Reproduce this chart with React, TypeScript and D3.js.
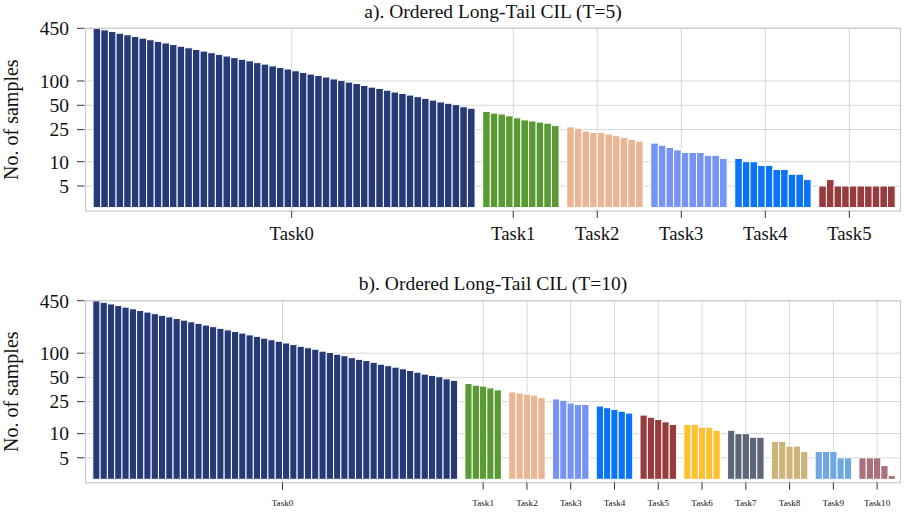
import React from 'react';
import * as d3 from 'd3';

const W = 907;
const H = 512;

// class counts, ordered from head to tail
const task0Counts = [450, 430, 410, 391, 374, 357, 340, 325, 310, 296, 283, 270, 258, 246, 235, 224, 214, 204, 195, 186,
  178, 169, 162, 154, 147, 141, 134, 128, 122, 117, 112, 106, 102, 97, 93, 88, 84, 81, 77, 73,
  70, 67, 64, 61, 58, 55, 53, 51, 48, 46];

// a) T=5
const t5Task1 = [42, 40, 39, 37, 35, 33, 32, 31, 30, 28];
const t5Task2 = [27, 26, 24, 23, 23, 22, 21, 20, 19, 18];
const t5Task3 = [17, 16, 15, 14, 13, 13, 13, 12, 12, 11];
const t5Task4 = [11, 10, 10, 9, 9, 8, 8, 7, 7, 6];
const t5Task5 = [5, 6, 5, 5, 5, 5, 5, 5, 5, 5];
const t5Names = ['Task0', 'Task1', 'Task2', 'Task3', 'Task4', 'Task5'];
const t5TickSlots = [26, 55, 66, 77, 88, 99];

// b) T=10
const t10Task1 = [42, 40, 39, 37, 35];
const t10Task2 = [33, 32, 31, 30, 28];
const t10Task3 = [27, 26, 24, 23, 23];
const t10Task4 = [22, 21, 20, 19, 18];
const t10Task5 = [17, 16, 15, 14, 13];
const t10Task6 = [13, 13, 12, 12, 11];
const t10Task7 = [11, 10, 10, 9, 9];
const t10Task8 = [8, 8, 7, 7, 6];
const t10Task9 = [6, 6, 6, 5, 5];
const t10Task10 = [5, 5, 5, 4, 3];
const t10Names = ['Task0', 'Task1', 'Task2', 'Task3', 'Task4', 'Task5', 'Task6', 'Task7', 'Task8', 'Task9', 'Task10'];
const t10TickSlots = [26, 53.5, 59.5, 65.5, 71.5, 77.5, 83.5, 89.5, 95.5, 101.5, 107.5];

const yTicks = [5, 10, 25, 50, 100, 450];

const taskColors = ['#263a77', '#5a9a34', '#ebb593', '#7594f4', '#0a73f6', '#983b3c',
  '#fdc030', '#5e6579', '#ceb37a', '#6fa8e1', '#a7707a'];

const FONT = '"Liberation Serif", "Times New Roman", serif';
const BASE = 2.7; // bars start here on the log axis

type PanelProps = {
  tasks: number[][];
  names: string[];
  tickSlots: number[];
  title: string;
  top: number;
  bottom: number;
  xLabelSize: number;
};

function Panel({ tasks, names, tickSlots, title, top, bottom, xLabelSize }: PanelProps) {
  // lay bars out on slots, one empty slot between tasks
  const bars: { slot: number; v: number; t: number }[] = [];
  let s = 0;
  tasks.forEach((vals, t) => {
    vals.forEach(v => {
      bars.push({ slot: s, v, t });
      s++;
    });
    s++;
  });
  const nSlots = s - 1;

  const left = 85.5;
  const right = 900.5;
  const x = d3.scaleLinear().domain([-1, nSlots + 0.7]).range([left, right]);
  const y = d3.scaleLog().domain([2.45, 450]).range([bottom, top]);
  const midY = (top + bottom) / 2;

  return (
    <g>
      {/* grid */}
      {yTicks.map(t => (
        <line key={'gy' + t} x1={left} x2={right} y1={y(t)} y2={y(t)} stroke="#d7d7d7" strokeWidth={1} />
      ))}
      {tickSlots.map((p, i) => (
        <line key={'gx' + i} x1={x(p)} x2={x(p)} y1={top} y2={bottom} stroke="#d7d7d7" strokeWidth={1} />
      ))}

      {/* bars */}
      {bars.map((b, i) => (
        <rect
          key={i}
          x={x(b.slot)}
          width={x(b.slot + 1) - x(b.slot)}
          y={y(b.v)}
          height={y(BASE) - y(b.v)}
          fill={taskColors[b.t]}
          stroke="#ffffff"
          strokeWidth={1}
        />
      ))}

      {/* frame */}
      <rect x={left} y={top} width={right - left} height={bottom - top} fill="none" stroke="#cdcdcd" strokeWidth={1.3} />

      {/* y axis */}
      {yTicks.map(t => (
        <g key={'yt' + t}>
          <line x1={left - 8.5} x2={left - 1} y1={y(t)} y2={y(t)} stroke="#333" strokeWidth={1} />
          <text x={69} y={y(t)} dy="0.35em" textAnchor="end" fontSize={19.5} fontFamily={FONT} fill="#111">
            {t}
          </text>
        </g>
      ))}
      <text
        transform={`translate(18, ${midY}) rotate(-90)`}
        textAnchor="middle"
        fontSize={20}
        fontFamily={FONT}
        fill="#111"
      >
        No. of samples
      </text>

      {/* x axis */}
      {tickSlots.map((p, i) => (
        <g key={'xt' + i}>
          <line x1={x(p)} x2={x(p)} y1={bottom} y2={bottom + 7} stroke="#333" strokeWidth={1} />
          <text
            x={x(p)}
            y={bottom + (xLabelSize > 12 ? 29 : 23)}
            textAnchor="middle"
            fontSize={xLabelSize}
            fontFamily={FONT}
            fill="#111"
          >
            {names[i]}
          </text>
        </g>
      ))}

      <text x={(left + right) / 2} y={top - 10.3} textAnchor="middle" fontSize={19.5} fontFamily={FONT} fill="#111">
        {title}
      </text>
    </g>
  );
}

export default function App() {
  return (
    <svg
      width={W}
      height={H}
      viewBox={`0 0 ${W} ${H}`}
      style={{ position: 'absolute', left: 0, top: 0, background: '#fff' }}
    >
      <Panel
        tasks={[task0Counts, t5Task1, t5Task2, t5Task3, t5Task4, t5Task5]}
        names={t5Names}
        tickSlots={t5TickSlots}
        title="a). Ordered Long-Tail CIL (T=5)"
        top={28.3}
        bottom={211}
        xLabelSize={18.7}
      />
      <Panel
        tasks={[task0Counts, t10Task1, t10Task2, t10Task3, t10Task4, t10Task5, t10Task6, t10Task7, t10Task8, t10Task9, t10Task10]}
        names={t10Names}
        tickSlots={t10TickSlots}
        title="b). Ordered Long-Tail CIL (T=10)"
        top={300.7}
        bottom={482.7}
        xLabelSize={9.1}
      />
    </svg>
  );
}
